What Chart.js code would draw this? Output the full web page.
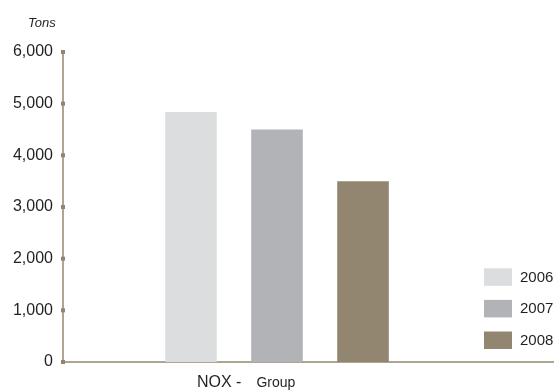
<!DOCTYPE html>
<html>
<head>
<meta charset="utf-8">
<script src="https://cdn.jsdelivr.net/npm/chart.js@4/dist/chart.umd.min.js"></script>
<style>
  html, body { margin: 0; padding: 0; background: #ffffff; }
  #wrap { position: relative; width: 558px; height: 392px; }
</style>
</head>
<body>
<div id="wrap"><canvas id="c" width="558" height="392"></canvas></div>
<script>
// NOx emissions for the group, in tons
const categories = ['NOX - Group'];
const years = ['2006', '2007', '2008'];
const values2006 = [4840];
const values2007 = [4500];
const values2008 = [3500];
const yTicks = [0, 1000, 2000, 3000, 4000, 5000, 6000];
const unitLabel = 'Tons';

const colors = ['#dcdddf', '#b2b3b7', '#938670'];
const axisColor = '#ada491';
const markColor = '#918572';
const textColor = '#231f20';
const baseFont = "'Liberation Sans', Arial, sans-serif";

// Axis extension, tick squares, unit caption, category caption and legend
const decorations = {
  id: 'decorations',
  afterDraw(chart) {
    const ctx = chart.ctx;
    const area = chart.chartArea;
    const xs = chart.scales.x;
    const ys = chart.scales.y;
    ctx.save();

    // baseline continues under the legend
    ctx.strokeStyle = axisColor;
    ctx.lineWidth = 2;
    ctx.beginPath();
    ctx.moveTo(area.right - 1, area.bottom);
    ctx.lineTo(chart.width - 4, area.bottom);
    ctx.stroke();

    // square tick marks on the value axis
    ctx.fillStyle = markColor;
    ys.ticks.forEach((t, i) => {
      const y = ys.getPixelForTick(i);
      ctx.fillRect(area.left - 2, y - 2, 4, 4);
    });

    // unit caption
    ctx.fillStyle = textColor;
    ctx.font = 'italic 13px ' + baseFont;
    ctx.textAlign = 'left';
    ctx.textBaseline = 'alphabetic';
    ctx.fillText(unitLabel, 28, 27);

    // category caption in two sizes
    const parts = categories[0].split(' - ');
    const cx = xs.getPixelForValue(0) - 80;
    const by = area.bottom + 25;
    ctx.font = '16px ' + baseFont;
    ctx.fillText(parts[0] + ' -', cx, by);
    const w = ctx.measureText(parts[0] + ' -').width;
    ctx.font = '14px ' + baseFont;
    ctx.fillText(parts[1], cx + w + 15, by);

    // legend, bottom-right
    const ds = chart.data.datasets;
    const step = 31.6;
    const boxW = 28, boxH = 17.5;
    const lx = area.right - 7;
    const lastTop = area.bottom - 13 - boxH;
    ctx.font = '15px ' + baseFont;
    ctx.textBaseline = 'middle';
    ds.forEach((d, i) => {
      const top = lastTop - (ds.length - 1 - i) * step;
      ctx.fillStyle = d.backgroundColor;
      ctx.fillRect(lx, top, boxW, boxH);
      ctx.fillStyle = textColor;
      ctx.fillText(d.label, lx + boxW + 8, top + boxH / 2 + 0.5);
    });
    ctx.restore();
  }
};

new Chart(document.getElementById('c'), {
  type: 'bar',
  data: {
    labels: categories,
    datasets: [
      { label: years[0], data: values2006, backgroundColor: colors[0] },
      { label: years[1], data: values2007, backgroundColor: colors[1] },
      { label: years[2], data: values2008, backgroundColor: colors[2] }
    ]
  },
  options: {
    responsive: false,
    animation: false,
    events: [],
    layout: { padding: { top: 52, right: 67, bottom: 0, left: 0 } },
    categoryPercentage: 0.6028,
    barPercentage: 0.6,
    plugins: {
      legend: { display: false },
      tooltip: { enabled: false },
      title: { display: false }
    },
    scales: {
      x: {
        grid: { display: false, drawTicks: false },
        border: { display: true, color: axisColor, width: 2 },
        ticks: { display: false },
        afterFit(scale) { scale.height = 30; }
      },
      y: {
        min: yTicks[0],
        max: yTicks[yTicks.length - 1],
        afterBuildTicks(scale) { scale.ticks = yTicks.map(v => ({ value: v })); },
        grid: { display: false, drawTicks: false },
        border: { display: true, color: axisColor, width: 2 },
        ticks: {
          padding: 10,
          color: textColor,
          font: { family: baseFont, size: 16 },
          callback: v => v.toLocaleString('en-US')
        },
        afterFit(scale) { scale.width = 63; }
      }
    }
  },
  plugins: [decorations]
});
</script>
</body>
</html>
